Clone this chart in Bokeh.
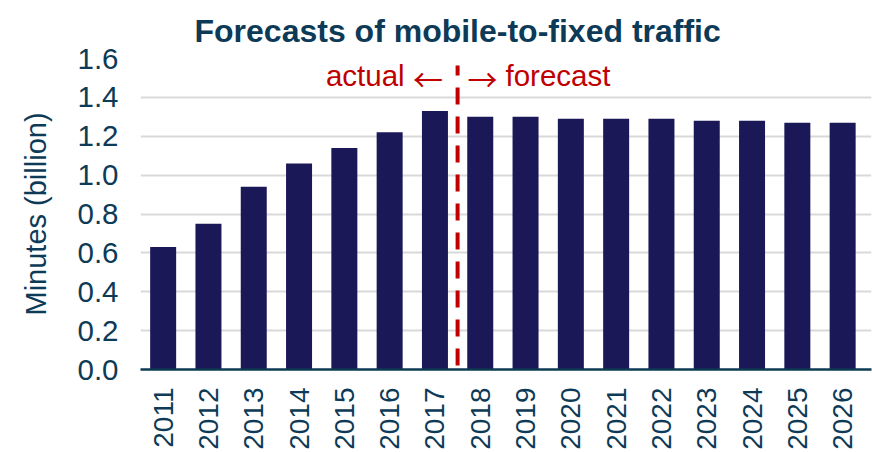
from bokeh.plotting import figure
from bokeh.models import ColumnDataSource, FixedTicker, Title, PrintfTickFormatter
from bokeh.core.properties import value
from bokeh.embed import file_html
from bokeh.resources import INLINE
import math

years = [2011, 2012, 2013, 2014, 2015, 2016, 2017, 2018, 2019, 2020,
         2021, 2022, 2023, 2024, 2025, 2026]
minutes = [0.63, 0.75, 0.94, 1.06, 1.14, 1.22, 1.33, 1.30, 1.30, 1.29,
           1.29, 1.29, 1.28, 1.28, 1.27, 1.27]
y_ticks = [0.0, 0.2, 0.4, 0.6, 0.8, 1.0, 1.2, 1.4, 1.6]
split_year = 2017.5
title_text = "Forecasts of mobile-to-fixed traffic"
y_label = "Minutes (billion)"
left_word = "actual"
left_arrow = "\u2190"
right_arrow = "\u2192"
right_word = "forecast"

FONT = "Liberation Sans"
ARROW_FONT = "Noto Sans CJK JP"
TXT = "#0d3a56"
RED = "#c00000"
NAVY = "#1b1858"

src = ColumnDataSource(dict(x=years, top=minutes))

p = figure(width=872, height=452, output_backend="svg", toolbar_location=None,
           x_range=(2010.5, 2026.637), y_range=(0, 1.6),
           min_border_left=140, min_border_right=1, min_border_top=58,
           min_border_bottom=81)
p.outline_line_color = None
p.background_fill_color = "white"

p.add_layout(Title(text=title_text, align="left", offset=54, standoff=19,
                   text_font=FONT, text_font_size="32px", text_font_style="bold",
                   text_color=TXT), "above")

p.vbar(x="x", top="top", width=0.574, bottom=0, source=src,
       fill_color=NAVY, line_color=None)

p.xgrid.grid_line_color = None
p.ygrid.grid_line_color = "#d9d9d9"
p.ygrid.grid_line_width = 2

p.yaxis.ticker = FixedTicker(ticks=y_ticks)
p.yaxis.formatter = PrintfTickFormatter(format="%.1f")
p.yaxis.axis_line_color = None
p.yaxis.major_tick_line_color = None
p.yaxis.minor_tick_line_color = None
p.yaxis.major_tick_out = 0
p.yaxis.major_label_standoff = 22
p.yaxis.major_label_text_font = FONT
p.yaxis.major_label_text_font_size = "29.5px"
p.yaxis.major_label_text_color = TXT
p.yaxis.axis_label = y_label
p.yaxis.axis_label_text_font = FONT
p.yaxis.axis_label_text_font_size = "29px"
p.yaxis.axis_label_text_font_style = "normal"
p.yaxis.axis_label_text_color = TXT
p.yaxis.axis_label_standoff = 22

p.xaxis.ticker = FixedTicker(ticks=years)
p.xaxis.axis_line_color = "#0b3a52"
p.xaxis.axis_line_width = 2.5
p.xaxis.major_tick_line_color = None
p.xaxis.minor_tick_line_color = None
p.xaxis.major_tick_out = 0
p.xaxis.major_label_orientation = math.pi / 2
p.xaxis.major_label_standoff = 18
p.xaxis.major_label_text_font = FONT
p.xaxis.major_label_text_font_size = "28px"
p.xaxis.major_label_text_color = TXT

# dashed divider between actual and forecast
p.segment(x0=[split_year], y0=[0], x1=[split_year], y1=[1.564],
          line_color=RED, line_width=4, line_dash="17 12", line_dash_offset=25)

p.text(x=[2016.33], y=[1.513], text=[left_word], text_align="right",
       text_baseline="middle", text_font=value(FONT), text_font_size="29.5px",
       text_color=RED)
p.text(x=[2018.557], y=[1.513], text=[right_word], text_align="left",
       text_baseline="middle", text_font=value(FONT), text_font_size="29.5px",
       text_color=RED)
p.text(x=[2016.847], y=[1.4995], text=[left_arrow], text_align="center",
       text_baseline="middle", text_font=value(ARROW_FONT), text_font_size="30px",
       text_color=RED)
p.text(x=[2018.05], y=[1.4995], text=[right_arrow], text_align="center",
       text_baseline="middle", text_font=value(ARROW_FONT), text_font_size="30px",
       text_color=RED)

open("out.html", "w").write(file_html(p, INLINE))
